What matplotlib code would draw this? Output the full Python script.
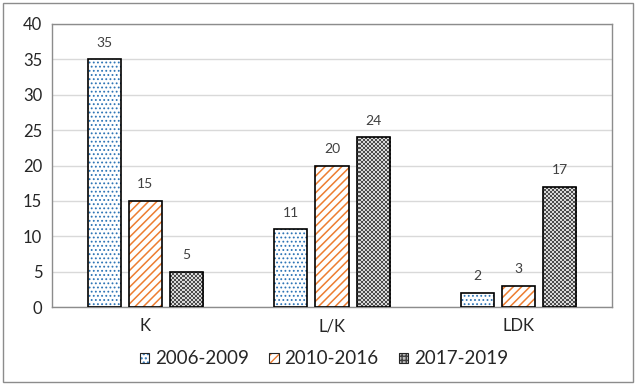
import matplotlib.pyplot as plt
import numpy as np
from matplotlib.legend_handler import HandlerTuple
from matplotlib.patches import Rectangle

categories = ["K", "L/K", "LDK"]
series_names = ["2006-2009", "2010-2016", "2017-2019"]
values_2006_2009 = [35, 11, 2]
values_2010_2016 = [15, 20, 3]
values_2017_2019 = [5, 24, 17]

plt.rcParams["font.family"] = ["Lato", "DejaVu Sans"]

fig = plt.figure(figsize=(6.37, 3.85), dpi=100)
ax = fig.add_axes([52 / 637, 78 / 385, 560 / 637, 283 / 385])

# рамка вокруг всей картинки
fig.patches.append(Rectangle((3 / 637, 3 / 385), 630 / 637, 379 / 385,
                             transform=fig.transFigure, fill=False,
                             edgecolor="#8c8c8c", linewidth=1.0))

x = np.arange(len(categories))
width = 0.177
step = 0.22
xlim = (-0.5, 2.5)
ylim = (0, 40)

# шахматная текстура для третьей серии (клетка ~2 px)
rows, cols = 142, 280
checker = (np.add.outer(np.arange(rows), np.arange(cols)) % 2) * 0.55 + 0.3

# 1-я серия: точки
with plt.rc_context({"hatch.linewidth": 0.8}):
    pos = x - step
    ax.bar(pos, values_2006_2009, width, color="white", edgecolor="#2e75b6",
           hatch="....", linewidth=0, zorder=2)
    h1 = Rectangle((0, 0), 1, 1, facecolor="white", edgecolor="#2e75b6",
                   hatch="....", linewidth=0)

# 2-я серия: косые полосы
with plt.rc_context({"hatch.linewidth": 1.1}):
    pos = x
    ax.bar(pos, values_2010_2016, width, color="white", edgecolor="#ed7d31",
           hatch="////", linewidth=0, zorder=2)
    h2 = Rectangle((0, 0), 1, 1, facecolor="white", edgecolor="#ed7d31",
                   hatch="////", linewidth=0)

# 3-я серия: шахматка, обрезанная по столбикам
pos = x + step
bars3 = ax.bar(pos, values_2017_2019, width, color="none", linewidth=0,
               zorder=2)
for b in bars3:
    im = ax.imshow(checker, cmap="gray", vmin=0, vmax=1, extent=(*xlim, *ylim),
                   aspect="auto", interpolation="nearest", origin="lower",
                   zorder=2)
    im.set_clip_path(b)
with plt.rc_context({"hatch.linewidth": 0.6}):
    h3 = Rectangle((0, 0), 1, 1, facecolor="#bfbfbf", edgecolor="#404040",
                   hatch="++++", linewidth=0)

all_values = [values_2006_2009, values_2010_2016, values_2017_2019]
for i, vals in enumerate(all_values):
    pos = x + (i - 1) * step
    ax.bar(pos, vals, width, fill=False, edgecolor="black",
           linewidth=1.2, zorder=3)
    for p, v in zip(pos, vals):
        ax.text(p, v + 1.5, str(v), ha="center", va="bottom",
                fontsize=10, color="#404040")

handles = []
for h in (h1, h2, h3):
    edge = Rectangle((0, 0), 1, 1, fill=False, edgecolor="#262626",
                     linewidth=0.8)
    handles.append((h, edge))

ax.set_xlim(*xlim)
ax.set_ylim(*ylim)
ax.set_yticks(range(0, 41, 5))
ax.set_xticks(x)
ax.set_xticklabels(categories)
ax.tick_params(length=0, labelsize=12, colors="#262626", pad=8)
ax.tick_params(axis="y", pad=7)
ax.yaxis.grid(True, color="#d9d9d9", linewidth=1.0, zorder=0)
ax.set_axisbelow(True)
for s in ax.spines.values():
    s.set_color("#8c8c8c")
    s.set_linewidth(1.0)

leg = fig.legend(handles, series_names, loc="center", ncol=3,
                 bbox_to_anchor=(324 / 637, 1 - 359 / 385), frameon=False,
                 fontsize=13.5, handlelength=0.5, handleheight=0.5,
                 handletextpad=0.3, columnspacing=1.1,
                 handler_map={tuple: HandlerTuple(ndivide=1, pad=0)})
for t in leg.get_texts():
    t.set_color("#262626")

fig.savefig("out.png", dpi=100)
